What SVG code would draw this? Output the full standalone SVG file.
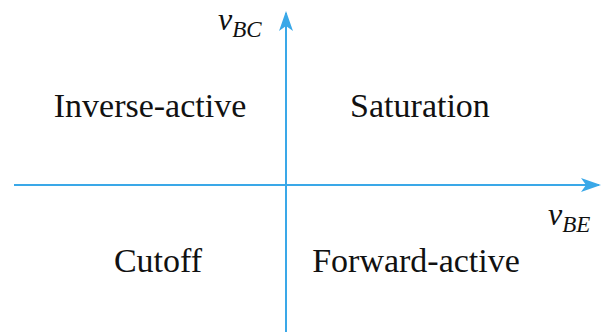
<svg xmlns="http://www.w3.org/2000/svg" width="603" height="332" viewBox="0 0 603 332">
<style>
.ax{stroke:#3AA8E8;stroke-width:2;fill:none}
.lbl{font-family:"Liberation Serif",serif;font-size:34px;fill:#111}
.v{font-family:"Liberation Serif",serif;font-style:italic;fill:#111}
</style>
<defs>
<marker id="ah" viewBox="0 0 20 14" refX="18" refY="7" markerWidth="20" markerHeight="14" markerUnits="userSpaceOnUse" orient="auto">
<path d="M0,0 L20,7 L0,14 L5,7 Z" fill="#3AA8E8"/>
</marker>
</defs>
<rect width="603" height="332" fill="#fff"/>
<g id="connectors">
<line class="ax" x1="14" y1="185" x2="599" y2="185" marker-end="url(#ah)"/>
<line class="ax" x1="286" y1="332" x2="286" y2="13" marker-end="url(#ah)"/>
</g>
<g id="inverse-active"><text class="lbl" x="150" y="117" text-anchor="middle">Inverse-active</text></g>
<g id="saturation"><text class="lbl" x="420" y="117" text-anchor="middle">Saturation</text></g>
<g id="cutoff"><text class="lbl" x="158" y="272" text-anchor="middle">Cutoff</text></g>
<g id="forward-active"><text class="lbl" x="416" y="272" text-anchor="middle">Forward-active</text></g>
<g id="vbc"><text class="v" x="218" y="30" font-size="32">v<tspan font-size="23" dy="7">BC</tspan></text></g>
<g id="vbe"><text class="v" x="548" y="225" font-size="32">v<tspan font-size="23" dy="7">BE</tspan></text></g>
</svg>
